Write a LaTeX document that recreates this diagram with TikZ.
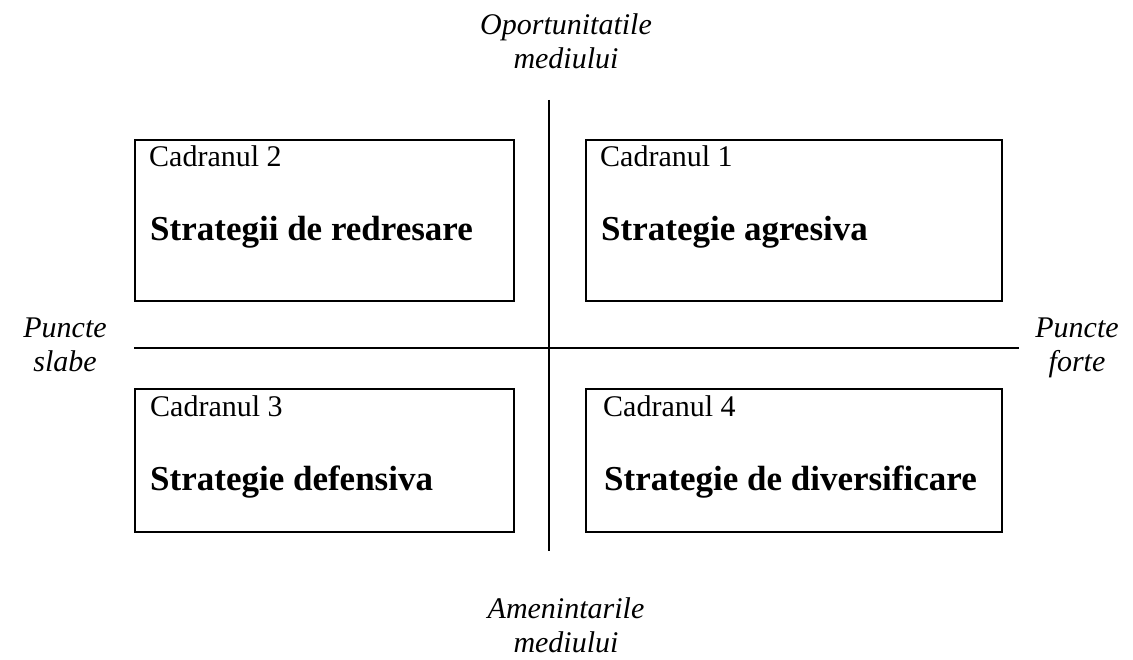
\documentclass[tikz,border=0pt]{standalone}
\usepackage{fontspec}
\setmainfont{Liberation Serif}
\begin{document}
\begin{tikzpicture}[x=1pt,y=-1pt,
  quad/.style={draw,line width=2pt,minimum width=379pt,minimum height=161pt,anchor=north west,inner sep=0pt},
  quadwide/.style={quad,minimum width=416pt},
  small/.style={anchor=base west,inner sep=0pt,font=\fontsize{30}{35}\selectfont},
  big/.style={anchor=base west,inner sep=0pt,font=\fontsize{35}{40}\selectfont\bfseries},
  axislabel/.style={align=center,inner sep=0pt,anchor=base,font=\fontsize{30}{34}\selectfont\itshape},
  axis/.style={line width=2pt}]
\useasboundingbox (0,0) rectangle (1133,660);
% boxes
\node[quad] (b2) at (134,139) {};
\node[quadwide] (b1) at (585,139) {};
\node[quad,minimum height=143pt] (b3) at (134,388) {};
\node[quadwide,minimum height=143pt] (b4) at (585,388) {};
% texts
\node[small] (c2) at (149,167) {Cadranul 2};
\node[big] (s2) at (150,241) {Strategii de redresare};
\node[small] (c1) at (600,167) {Cadranul 1};
\node[big] (s1) at (601,241) {Strategie agresiva};
\node[small] (c3) at (150,417) {Cadranul 3};
\node[big] (s3) at (150,490) {Strategie defensiva};
\node[small] (c4) at (603,417) {Cadranul 4};
\node[big] (s4) at (604,490) {Strategie de diversificare};
% axes
\coordinate (top) at (549,100);
\coordinate (bottom) at (549,551);
\coordinate (left) at (134,348);
\coordinate (right) at (1019,348);
\draw[axis] (top) -- (bottom);
\draw[axis] (left) -- (right);
% axis labels (base = baseline of last line)
\node[axislabel] (op) at (566,69) {Oportunitatile\\mediului};
\node[axislabel] (am) at (566,652) {Amenintarile\\mediului};
\node[axislabel] (ps) at (65,371) {Puncte\\slabe};
\node[axislabel] (pf) at (1077,371) {Puncte\\forte};
\end{tikzpicture}
\end{document}
